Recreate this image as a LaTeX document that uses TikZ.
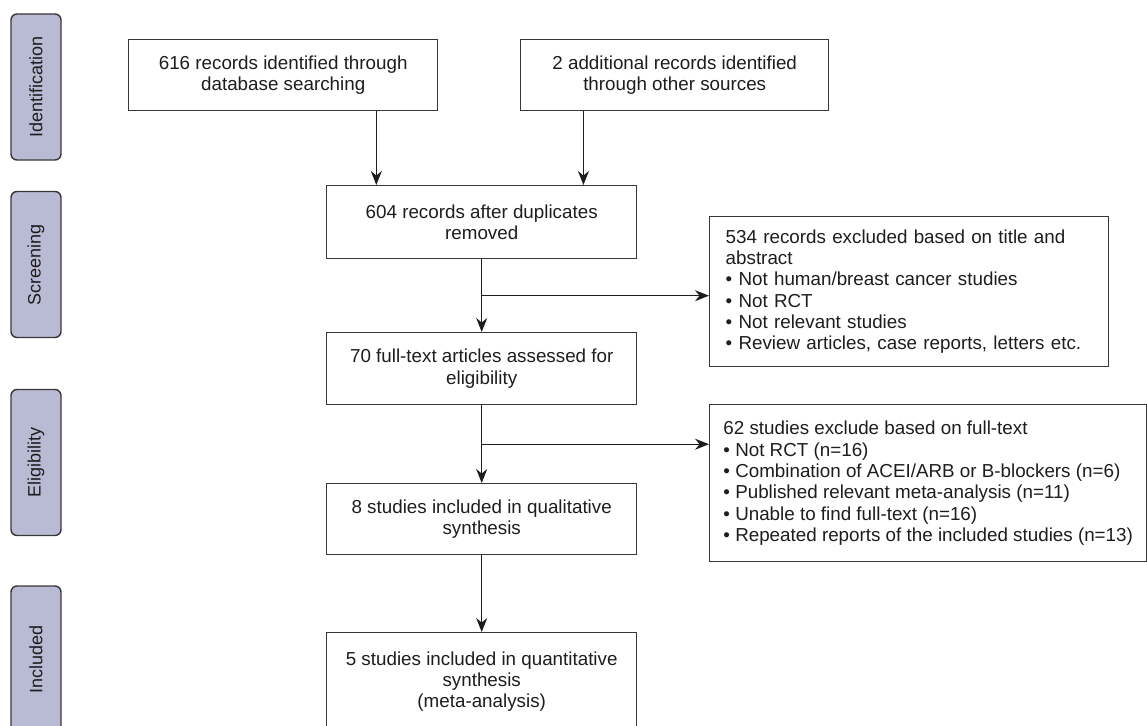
\documentclass[tikz,border=0pt]{standalone}
\usepackage{fontspec}
\setmainfont{Liberation Sans}
\usetikzlibrary{arrows.meta,calc}
\definecolor{tabblue}{RGB}{185,187,212}
\definecolor{linegray}{RGB}{55,55,55}
\definecolor{textgray}{RGB}{30,28,29}

\begin{document}
\begin{tikzpicture}[x=1pt,y=-1pt,
    box/.style={draw=linegray,line width=1.4pt,text=textgray,align=center,inner sep=0pt,
      anchor=north west,font=\fontsize{18.8}{21.3}\selectfont},
    exbox/.style={box,align=left},
    tab/.style={draw=linegray,line width=1.4pt,fill=tabblue,rounded corners=6pt,rotate=90,
      minimum height=50pt,minimum width=146pt,inner sep=0pt,text=textgray,
      font=\fontsize{18}{20}\selectfont},
    arr/.style={draw=textgray,line width=1.4pt,-{Stealth[length=14pt,width=11pt]}}]
  \useasboundingbox (0,0) rectangle (1147,725);

  \node[tab] (tabid) at (36,87) {Identification};
  \node[tab] (tabscr) at (36,264.5) {Screening};
  \node[tab] (tabelig) at (36,462.5) {Eligibility};
  \node[tab] (tabincl) at (36,659) {Included};

  \node[box,minimum width=309pt,minimum height=71pt] (db) at (128,39)
    {616 records identified through\\database searching};
  \node[box,minimum width=308pt,minimum height=71pt] (other) at (520,39)
    {2 additional records identified\\through other sources};
  \node[box,minimum width=310pt,minimum height=73pt] (dup) at (326,185)
    {604 records after duplicates\\removed};
  \node[box,minimum width=310pt,minimum height=72pt] (full) at (326,332)
    {70 full-text articles assessed for\\eligibility};
  \node[box,minimum width=310pt,minimum height=71pt] (qual) at (326,483)
    {8 studies included in qualitative\\synthesis};
  \node[box,minimum width=310pt,minimum height=98pt] (quant) at (326,632)
    {5 studies included in quantitative\\synthesis\\(meta-analysis)};

  \node[exbox,inner xsep=16pt,text width=367pt,minimum height=150pt] (excla) at (709,216)
    {534 records excluded based on title and\\abstract\\
     • Not human/breast cancer studies\\
     • Not RCT\\
     • Not relevant studies\\
     • Review articles, case reports, letters etc.};
  \node[exbox,minimum width=437pt,minimum height=157pt] (exclb) at (709,404)
    {62 studies exclude based on full-text\\
     • Not RCT (n=16)\\
     • Combination of ACEI/ARB or B-blockers (n=6)\\
     • Published relevant meta-analysis (n=11)\\
     • Unable to find full-text (n=16)\\
     • Repeated reports of the included studies (n=13)};

  \draw[arr] ($(db.south west)!.8!(db.south east)$) coordinate (a1) -- (a1 |- dup.north);
  \draw[arr] ($(other.south west)!.205!(other.south east)$) coordinate (a2) -- (a2 |- dup.north);
  \draw[arr] (dup) -- (full);
  \draw[arr] ($(dup.south)!.5!(full.north)$) coordinate (j1) -- (j1 -| excla.west);
  \draw[arr] (full) -- (qual);
  \draw[arr] ($(full.south)!.5!(qual.north)$) coordinate (j2) -- (j2 -| exclb.west);
  \draw[arr] (qual) -- (quant);
\end{tikzpicture}
\end{document}
